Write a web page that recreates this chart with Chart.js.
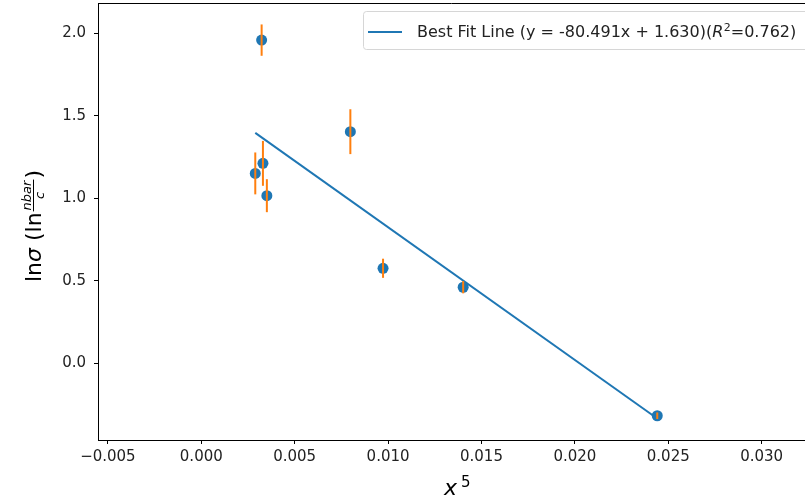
<!DOCTYPE html>
<html>
<head>
<meta charset="utf-8">
<script src="https://cdn.jsdelivr.net/npm/chart.js"></script>
<style>
  html, body { margin: 0; padding: 0; background: #fff; overflow: hidden; }
</style>
</head>
<body>
<canvas id="chart" width="805" height="502"></canvas>
<script>
// measured points (x^5, ln sigma) and their error bars
const xValues = [0.00323, 0.00289, 0.00330, 0.00351, 0.00798, 0.00973, 0.01402, 0.02441];
const yValues = [1.959, 1.151, 1.212, 1.016, 1.404, 0.576, 0.461, -0.318];
const yErrors = [0.095, 0.127, 0.136, 0.100, 0.136, 0.058, 0.037, 0.020];

// best fit line ends
const fitX = [0.00289, 0.02441];
const fitY = [1.397, -0.335];
const fitLabel = 'Best Fit Line (y = -80.491x + 1.630)';
const r2Value = '0.762';

const xRange = [-0.00553, 0.03232];
const yRange = [-0.465, 2.184];

const blue = '#1f77b4';
const orange = '#ff7f0e';
const font = '"DejaVu Sans", sans-serif';

const points = xValues.map((x, i) => ({x: x, y: yValues[i]}));
const fitPoints = fitX.map((x, i) => ({x: x, y: fitY[i]}));

const fmtTick = (v, d) => {
  if (Math.abs(v) < 1e-9) v = 0;
  return v.toFixed(d).replace('-', '\u2212');
};

const errorBars = {
  id: 'errorBars',
  afterDatasetsDraw(chart) {
    const ctx = chart.ctx, xs = chart.scales.x, ys = chart.scales.y;
    ctx.save();
    ctx.strokeStyle = orange;
    ctx.lineWidth = 2;
    xValues.forEach((x, i) => {
      const px = xs.getPixelForValue(x);
      ctx.beginPath();
      ctx.moveTo(px, ys.getPixelForValue(yValues[i] + yErrors[i]));
      ctx.lineTo(px, ys.getPixelForValue(yValues[i] - yErrors[i]));
      ctx.stroke();
    });
    ctx.restore();
  }
};

const decorations = {
  id: 'decorations',
  afterDraw(chart) {
    const ctx = chart.ctx, a = chart.chartArea;
    ctx.save();
    // top spine
    ctx.strokeStyle = '#000';
    ctx.lineWidth = 1;
    ctx.beginPath();
    ctx.moveTo(a.left, Math.round(a.top) + 0.5);
    ctx.lineTo(a.right, Math.round(a.top) + 0.5);
    ctx.stroke();

    // legend
    ctx.fillStyle = 'rgba(255,255,255,0.8)';
    ctx.strokeStyle = '#d6d6d6';
    ctx.beginPath();
    ctx.roundRect(363.5, 11.5, 460, 38, 3);
    ctx.fill();
    ctx.stroke();
    ctx.strokeStyle = blue;
    ctx.lineWidth = 2;
    ctx.beginPath();
    ctx.moveTo(368, 32);
    ctx.lineTo(402, 32);
    ctx.stroke();
    ctx.fillStyle = '#222';
    ctx.textBaseline = 'alphabetic';
    let tx = 417, ty = 36.5;
    ctx.font = '16px ' + font;
    ctx.fillText(fitLabel + '(', tx, ty);
    tx += ctx.measureText(fitLabel + '(').width;
    ctx.font = 'italic 16px ' + font;
    ctx.fillText('R', tx, ty);
    tx += ctx.measureText('R').width + 0.5;
    ctx.font = '11px ' + font;
    ctx.fillText('2', tx, ty - 6);
    tx += ctx.measureText('2').width;
    ctx.font = '16px ' + font;
    ctx.fillText('=' + r2Value + ')', tx, ty);

    // y axis title: ln sigma (ln nbar/c)
    ctx.translate(40.5, 226);
    ctx.rotate(-Math.PI / 2);
    const main = '22px ' + font, mainIt = 'italic 22px ' + font, small = 'italic 13px ' + font;
    ctx.font = main; const wLn = ctx.measureText('ln').width;
    ctx.font = mainIt; const wSig = ctx.measureText('\u03c3').width;
    ctx.font = main; const wOpen = ctx.measureText(' (ln').width;
    ctx.font = small; const wNum = ctx.measureText('nbar').width, wDen = ctx.measureText('c').width;
    const wFrac = Math.max(wNum, wDen) + 4;
    ctx.font = main; const wClose = ctx.measureText(')').width;
    let lx = -(wLn + wSig + wOpen + wFrac + wClose) / 2;
    ctx.fillStyle = '#000';
    ctx.font = main; ctx.fillText('ln', lx, 0); lx += wLn;
    ctx.font = mainIt; ctx.fillText('\u03c3', lx, 0); lx += wSig;
    ctx.font = main; ctx.fillText(' (ln', lx, 0); lx += wOpen;
    ctx.font = small;
    ctx.fillText('nbar', lx + (wFrac - wNum) / 2, -10);
    ctx.fillText('c', lx + (wFrac - wDen) / 2, 3);
    ctx.fillRect(lx + 1, -7.5, wFrac - 2, 1);
    lx += wFrac;
    ctx.font = main; ctx.fillText(')', lx, 0);
    ctx.restore();

    // x axis title: x^5
    ctx.save();
    ctx.fillStyle = '#000';
    ctx.font = 'italic 22px ' + font;
    ctx.fillText('x', 444, 495);
    ctx.font = '15px ' + font;
    ctx.fillText('5', 461, 487);
    ctx.restore();
  }
};

const noPad = s => {
  s.paddingTop = 0; s.paddingBottom = 0; s.paddingLeft = 0; s.paddingRight = 0;
};

const axisCommon = {
  type: 'linear',
  grid: { display: true, drawOnChartArea: false, drawTicks: true, tickLength: 4, color: '#000', tickColor: '#000' },
  border: { display: true, color: '#000', width: 1 },
};

new Chart(document.getElementById('chart'), {
  type: 'scatter',
  data: {
    datasets: [
      {
        type: 'line',
        label: fitLabel,
        data: fitPoints,
        borderColor: blue,
        borderWidth: 2,
        pointRadius: 0,
        fill: false,
        order: 2
      },
      {
        label: 'data',
        data: points,
        backgroundColor: blue,
        borderWidth: 0,
        pointRadius: 5.5,
        order: 1
      }
    ]
  },
  options: {
    responsive: false,
    animation: false,
    events: [],
    layout: { autoPadding: false, padding: { top: 3, right: 0, left: 0, bottom: 0 } },
    plugins: { legend: { display: false }, tooltip: { enabled: false } },
    scales: {
      x: Object.assign({}, axisCommon, {
        min: xRange[0], max: xRange[1],
        afterFit: s => { s.height = 62; noPad(s); },
        ticks: {
          stepSize: 0.005, includeBounds: false, maxRotation: 0, autoSkip: false,
          padding: 4, color: '#222', font: { family: font, size: 15 },
          callback: v => fmtTick(v, 3)
        }
      }),
      y: Object.assign({}, axisCommon, {
        min: yRange[0], max: yRange[1],
        afterFit: s => { s.width = 98; noPad(s); },
        ticks: {
          stepSize: 0.5, includeBounds: false, autoSkip: false,
          padding: 8, color: '#222', font: { family: font, size: 15 },
          callback: v => fmtTick(v, 1)
        }
      })
    }
  },
  plugins: [errorBars, decorations]
});
</script>
</body>
</html>
